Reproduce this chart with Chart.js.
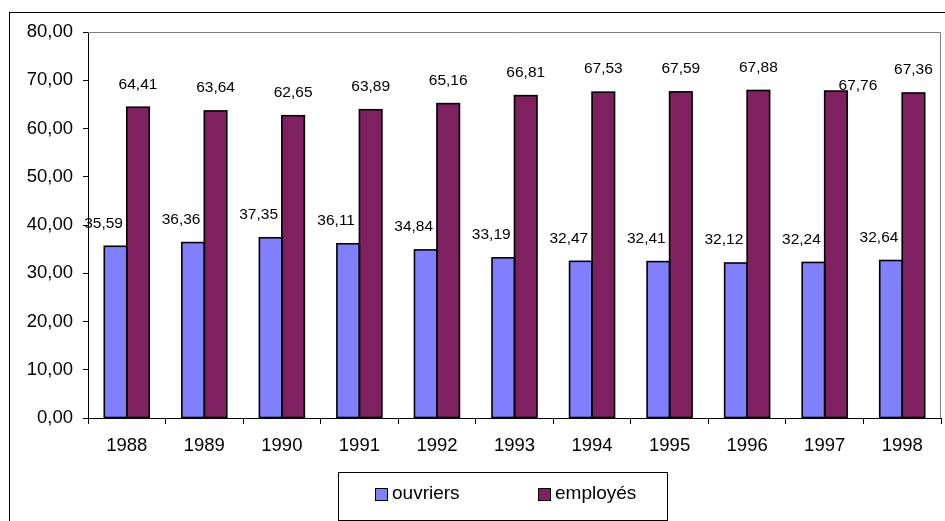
<!DOCTYPE html>
<html>
<head>
<meta charset="utf-8">
<script src="https://cdn.jsdelivr.net/npm/chart.js"></script>
<style>
  body { margin: 0; background: #fff; }
  canvas { display: block; }
</style>
</head>
<body>
<canvas id="chart" width="945" height="521"></canvas>
<script>
const years = ["1988", "1989", "1990", "1991", "1992", "1993", "1994", "1995", "1996", "1997", "1998"];
const ouvriers = [35.59, 36.36, 37.35, 36.11, 34.84, 33.19, 32.47, 32.41, 32.12, 32.24, 32.64];
const employes = [64.41, 63.64, 62.65, 63.89, 65.16, 66.81, 67.53, 67.59, 67.88, 67.76, 67.36];
const seriesNames = ["ouvriers", "employés"];
const yMax = 80;
const yStep = 10;

const FONT = "'Liberation Sans', Arial, sans-serif";
const fmt = v => v.toFixed(2).replace(".", ",");

// outer frame + grey plot border
const framePlugin = {
    id: "frame",
    beforeDraw(chart) {
        const c = chart.ctx;
        c.save();
        c.fillStyle = "#fff";
        c.fillRect(0, 0, chart.width, chart.height);
        c.strokeStyle = "#000";
        c.lineWidth = 1;
        c.strokeRect(9.5, 12.5, 1000, 600);
        c.restore();
    },
    beforeDatasetsDraw(chart) {
        const a = chart.chartArea;
        const c = chart.ctx;
        c.save();
        c.strokeStyle = "#808080";
        c.lineWidth = 1;
        c.beginPath();
        c.moveTo(a.left, a.top + 0.5);
        c.lineTo(a.right - 0.5, a.top + 0.5);
        c.lineTo(a.right - 0.5, a.bottom);
        c.stroke();
        c.restore();
    }
};

// black outline round each bar + value labels above
const valueLabels = {
    id: "valueLabels",
    afterDatasetsDraw(chart) {
        const c = chart.ctx;
        c.save();
        c.strokeStyle = "#000";
        c.lineWidth = 1.6;
        chart.data.datasets.forEach((ds, di) => {
            chart.getDatasetMeta(di).data.forEach(bar => {
                const p = bar.getProps(["x", "y", "base", "width"], true);
                c.strokeRect(p.x - p.width / 2, p.y, p.width, p.base - p.y);
            });
        });
        c.font = "15.5px " + FONT;
        c.fillStyle = "#000";
        c.textAlign = "center";
        c.textBaseline = "middle";
        chart.data.datasets.forEach((ds, di) => {
            const meta = chart.getDatasetMeta(di);
            meta.data.forEach((bar, i) => {
                let dx = di === 0 ? -12 : 0;
                let dy = -23;
                // 1997 employés label was moved by hand in the original
                if (di === 1 && i === 9) { dx = 22; dy = -5; }
                c.fillText(fmt(ds.data[i]), bar.x + dx, bar.y + dy);
            });
        });
        c.restore();
    }
};

// boxed legend at the bottom
const boxLegend = {
    id: "boxLegend",
    afterDraw(chart) {
        const c = chart.ctx;
        c.save();
        c.strokeStyle = "#000";
        c.lineWidth = 1;
        c.strokeRect(338.5, 472.5, 329, 48);
        c.font = "19px " + FONT;
        c.textBaseline = "middle";
        c.textAlign = "left";
        const xs = [375, 538];
        chart.data.datasets.forEach((ds, i) => {
            c.fillStyle = ds.backgroundColor;
            c.fillRect(xs[i], 488, 13, 13);
            c.strokeRect(xs[i] + 0.5, 488.5, 12, 12);
            c.fillStyle = "#000";
            c.fillText(ds.label, xs[i] + 17, 494);
        });
        c.restore();
    }
};

new Chart(document.getElementById("chart"), {
    type: "bar",
    data: {
        labels: years,
        datasets: [
            {
                label: seriesNames[0],
                data: ouvriers,
                backgroundColor: "#8080FF",
                borderWidth: 0
            },
            {
                label: seriesNames[1],
                data: employes,
                backgroundColor: "#7F2060",
                borderWidth: 0
            }
        ]
    },
    options: {
        responsive: false,
        animation: false,
        layout: { padding: { left: 0, top: 32, right: 4, bottom: 0 } },
        datasets: {
            bar: { categoryPercentage: 0.58, barPercentage: 1.0 }
        },
        plugins: {
            legend: { display: false },
            tooltip: { enabled: false }
        },
        scales: {
            x: {
                grid: {
                    offset: true,
                    drawOnChartArea: false,
                    tickLength: 6,
                    color: "#000"
                },
                border: { color: "#000" },
                ticks: {
                    color: "#000",
                    font: { family: FONT, size: 18.5 },
                    padding: 11,
                    maxRotation: 0
                },
                afterFit(s) { s.height = 103; }
            },
            y: {
                min: 0,
                max: yMax,
                grid: {
                    drawOnChartArea: false,
                    tickLength: 5,
                    color: "#000"
                },
                border: { color: "#000" },
                ticks: {
                    stepSize: yStep,
                    color: "#000",
                    font: { family: FONT, size: 18.5 },
                    padding: 10,
                    callback: v => fmt(v)
                },
                afterFit(s) { s.width = 88; }
            }
        }
    },
    plugins: [framePlugin, valueLabels, boxLegend]
});
</script>
</body>
</html>
